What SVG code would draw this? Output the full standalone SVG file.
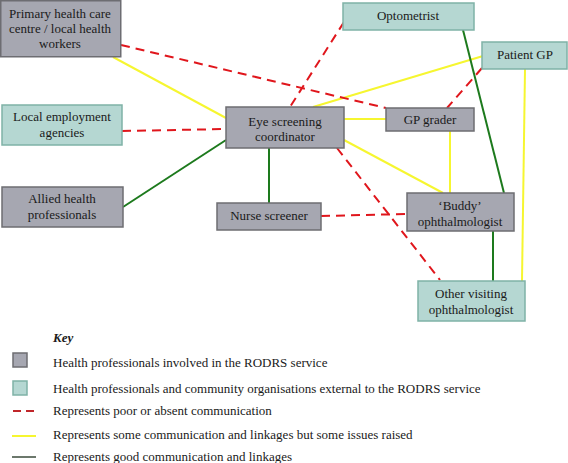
<svg xmlns="http://www.w3.org/2000/svg" width="568" height="463" viewBox="0 0 568 463">
<style>
text{font-family:'Liberation Serif','Times New Roman',serif;font-size:13px;fill:#1a1a1a;text-anchor:middle}
.in{fill:#a6a7b1;stroke:#6d6d72;stroke-width:1.5}
.ex{fill:#b5d7d2;stroke:#7fb2a7;stroke-width:1.5}
.poor{stroke:#e0161c;stroke-width:2;stroke-dasharray:9,6;fill:none}
.some{stroke:#f6f630;stroke-width:2;fill:none}
.good{stroke:#1d7a1d;stroke-width:2;fill:none}
.key{text-anchor:start}
</style>
<rect width="568" height="463" fill="#fff"/>
<g id="connectors">
<line class="some" x1="113" y1="57" x2="226" y2="118"/>
<line class="some" x1="344" y1="119" x2="386" y2="119"/>
<line class="some" x1="313" y1="107" x2="483" y2="56"/>
<line class="some" x1="344" y1="140" x2="443" y2="193"/>
<line class="some" x1="450" y1="131" x2="450" y2="193"/>
<line class="some" x1="525" y1="69" x2="522" y2="281"/>
<line class="good" x1="123" y1="207" x2="226" y2="140"/>
<line class="good" x1="269" y1="148" x2="269" y2="203"/>
<line class="good" x1="463" y1="30" x2="504" y2="193"/>
<line class="good" x1="493" y1="231" x2="493" y2="281"/>
<line class="poor" x1="121" y1="45" x2="386" y2="108"/>
<line class="poor" x1="344" y1="22" x2="290" y2="107"/>
<line class="poor" x1="482" y1="68" x2="447" y2="108"/>
<line class="poor" x1="122" y1="131" x2="226" y2="129"/>
<line class="poor" x1="321" y1="216" x2="407" y2="214"/>
<line class="poor" x1="337" y1="148" x2="440" y2="280"/>
</g>
<g id="primary"><rect class="in" x="0.75" y="0.75" width="120" height="56"/><text x="60" y="18">Primary health care</text><text x="60" y="33">centre / local health</text><text x="60" y="48">workers</text></g>
<g id="employment"><rect class="ex" x="2" y="105" width="120" height="40"/><text x="62" y="121">Local employment</text><text x="62" y="137">agencies</text></g>
<g id="allied"><rect class="in" x="2" y="187" width="121" height="40"/><text x="62" y="203">Allied health</text><text x="62" y="219">professionals</text></g>
<g id="optometrist"><rect class="ex" x="343" y="3" width="131" height="27"/><text x="408" y="20">Optometrist</text></g>
<g id="patientgp"><rect class="ex" x="482" y="42" width="85" height="27"/><text x="525" y="59">Patient GP</text></g>
<g id="coordinator"><rect class="in" x="226" y="107" width="118" height="41"/><text x="285" y="126">Eye screening</text><text x="285" y="141">coordinator</text></g>
<g id="gpgrader"><rect class="in" x="386" y="108" width="88" height="23"/><text x="430" y="124">GP grader</text></g>
<g id="nurse"><rect class="in" x="217" y="203" width="104" height="27"/><text x="269" y="220">Nurse screener</text></g>
<g id="buddy"><rect class="in" x="407" y="193" width="107" height="38"/><text x="460" y="210">‘Buddy’</text><text x="460" y="226">ophthalmologist</text></g>
<g id="othervisiting"><rect class="ex" x="418" y="281" width="107" height="40"/><text x="471" y="298">Other visiting</text><text x="471" y="314">ophthalmologist</text></g>
<g id="legend">
<text class="key" x="53" y="342" font-weight="bold" font-style="italic">Key</text>
<rect class="in" x="13" y="353" width="14" height="14"/>
<text class="key" x="53" y="367">Health professionals involved in the RODRS service</text>
<rect class="ex" x="13" y="381" width="14" height="14"/>
<text class="key" x="53" y="393">Health professionals and community organisations external to the RODRS service</text>
<line x1="13" y1="411" x2="34" y2="411" stroke="#c0262a" stroke-width="2" stroke-dasharray="8,5"/>
<text class="key" x="53" y="415">Represents poor or absent communication</text>
<line x1="12" y1="436" x2="36" y2="436" stroke="#f6f630" stroke-width="2"/>
<text class="key" x="53" y="439">Represents some communication and linkages but some issues raised</text>
<line x1="12" y1="457" x2="36" y2="457" stroke="#6c786c" stroke-width="2"/>
<text class="key" x="53" y="461">Represents good communication and linkages</text>
</g>
</svg>
